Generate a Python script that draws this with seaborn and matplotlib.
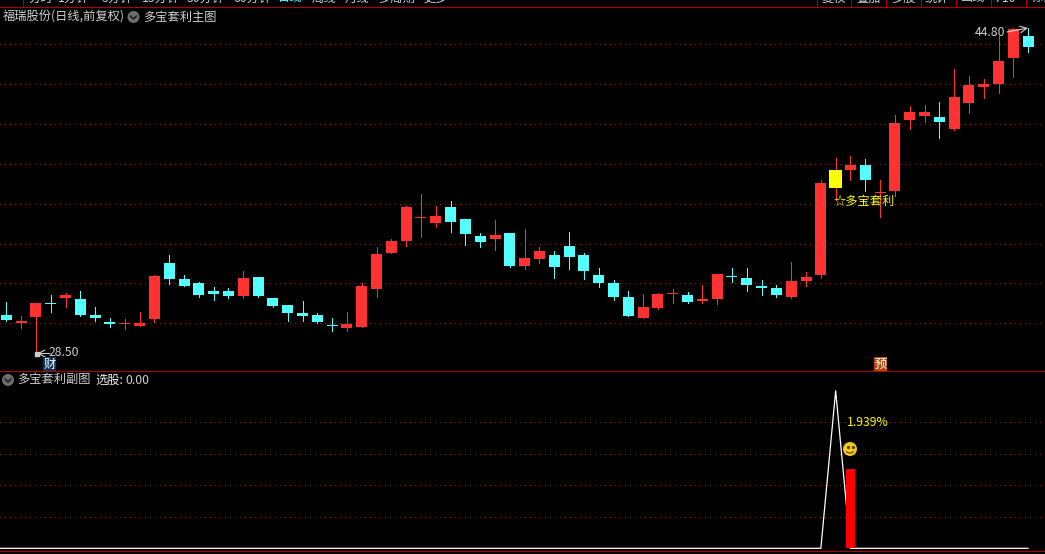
"""Candlestick chart with a signal sub panel, dark trading terminal look."""
import matplotlib
matplotlib.use("Agg")
import matplotlib.pyplot as plt
from matplotlib.patches import Arc, Circle
import numpy as np
import pandas as pd
import seaborn as sns

W, H = 1045, 554

opens = [30.41, 30.01, 30.31, 31.01, 31.27, 31.22, 30.41, 30.06, 29.96, 29.86,
         30.21, 33.02, 32.22, 32.02, 31.62, 31.62, 31.37, 32.32, 31.27, 30.91,
         30.51, 30.41, 29.91, 29.76, 29.81, 31.72, 33.53, 34.13, 35.28, 35.03,
         35.83, 35.23, 34.38, 34.23, 34.53, 32.87, 33.22, 33.42, 33.88, 33.42,
         32.42, 32.02, 31.32, 30.26, 30.76, 31.47, 31.42, 31.12, 31.22, 32.37,
         32.27, 31.87, 31.77, 31.32, 32.12, 32.42, 36.79, 37.69, 37.94, 36.54,
         36.64, 40.20, 40.40, 40.35, 39.75, 41.05, 41.85, 42.01, 43.31, 44.41]
closes = [30.16, 30.11, 31.01, 30.96, 31.42, 30.41, 30.26, 29.96, 30.01, 30.01,
          32.37, 32.22, 31.87, 31.42, 31.47, 31.37, 32.27, 31.37, 30.86, 30.51,
          30.36, 30.06, 29.86, 29.96, 31.87, 33.48, 34.13, 35.83, 35.33, 35.38,
          35.08, 34.48, 34.08, 34.43, 32.87, 33.27, 33.63, 32.82, 33.32, 32.62,
          32.02, 31.32, 30.36, 30.81, 31.47, 31.52, 31.07, 31.22, 32.47, 32.32,
          31.92, 31.77, 31.42, 32.12, 32.32, 37.04, 37.69, 37.94, 37.19, 36.59,
          40.05, 40.60, 40.60, 40.10, 41.35, 41.95, 42.01, 43.16, 44.76, 43.86]
highs = [31.07, 30.36, 31.01, 31.42, 31.52, 31.62, 30.81, 30.26, 30.21, 30.56,
         32.42, 33.42, 32.42, 32.07, 31.82, 31.77, 32.62, 32.32, 31.27, 30.91,
         31.12, 30.51, 30.26, 30.56, 32.02, 33.83, 34.23, 35.88, 36.49, 35.88,
         36.13, 35.23, 34.53, 35.18, 34.53, 34.73, 33.83, 33.63, 34.58, 33.53,
         32.77, 32.17, 31.62, 31.47, 31.52, 31.72, 31.57, 31.92, 32.47, 32.77,
         32.77, 32.17, 31.92, 33.07, 32.57, 37.19, 38.29, 38.39, 38.24, 37.19,
         40.45, 40.90, 40.95, 41.10, 42.76, 42.41, 42.26, 44.41, 44.80, 44.81]
lows = [30.11, 29.76, 28.50, 30.56, 30.81, 30.36, 30.11, 29.81, 29.71, 29.86,
        30.06, 31.97, 31.87, 31.32, 31.17, 31.27, 31.27, 31.32, 30.81, 30.11,
        30.11, 30.01, 29.61, 29.61, 29.81, 31.32, 33.53, 33.88, 34.33, 34.83,
        34.58, 33.93, 33.83, 33.68, 32.82, 32.72, 33.02, 32.27, 32.72, 32.22,
        31.82, 31.17, 30.36, 30.26, 30.71, 31.01, 31.01, 31.01, 30.96, 32.07,
        31.62, 31.42, 31.32, 31.27, 31.87, 32.27, 36.18, 37.19, 36.64, 35.33,
        36.39, 39.75, 40.10, 39.30, 39.70, 40.55, 41.30, 41.55, 42.36, 43.61]
signal_day = 56

price_ticks = [30, 32, 34, 36, 38, 40, 42, 44]
sub_ticks = [0.5, 1.0, 1.5, 2.0]

line_days = [-1, 55, 56, 57, 69]
line_values = [0.0, 0.0, 2.5, 0.0, 0.0]
bar_days = [57]
bar_values = [1.26]

menu_left = [("分时", 28), ("1分钟", 58), ("5分钟", 102), ("15分钟", 142), ("30分钟", 187),
             ("60分钟", 233), ("日线", 278), ("周线", 312), ("月线", 345), ("多周期", 378), ("更多>", 423)]
menu_right = [("复权", 822), ("叠加", 856), ("多股", 891), ("统计", 925), ("画线", 961), ("F10", 996), ("标记", 1031)]
menu_dividers = [23, 816.5, 850.5, 885.5, 920.5, 955.5, 990.5, 1025.5]

RED = "#ff3232"
CYAN = "#54ffff"
YELLOW = "#ffff00"
GRAY = "#d0d0d0"
RULE = "#b00000"
FONT = ["Noto Sans CJK SC", "DejaVu Sans"]
FS = 8.8

sns.set_theme(style="dark", rc={"axes.facecolor": "black", "figure.facecolor": "black"})
plt.rcParams["font.family"] = FONT

df = pd.DataFrame({"open": opens, "close": closes, "high": highs, "low": lows})
df["day"] = np.arange(len(df))
df["color"] = np.where(df["close"] >= df["open"], RED, CYAN)


def style_axes(ax):
    # 14.81 px per trading day, first candle centred at x=6.3
    ax.set_xlim(-6.3 / 14.81, (W - 6.3) / 14.81)
    ax.set_xticks([])
    ax.set_xlabel("")
    ax.set_ylabel("")
    ax.tick_params(left=False, labelleft=False)
    ax.set_axisbelow(True)
    ax.grid(axis="y", color="#b01010", lw=0.72, linestyle=(0, (1, 5)), antialiased=False)
    ax.grid(axis="x", visible=False)
    for spine in ax.spines.values():
        spine.set_visible(False)


def draw_candles(ax):
    plain = df[df["day"] != signal_day]
    ax.vlines(df["day"], df["low"], df["high"], colors=df["color"], lw=0.72, antialiased=False, zorder=2)
    ax.bar(plain["day"], (plain["close"] - plain["open"]).abs(), bottom=plain[["open", "close"]].min(axis=1),
           width=11 / 14.81, color=plain["color"], linewidth=0, antialiased=False, zorder=3)
    s = df[df["day"] == signal_day]
    ax.bar(s["day"], s["close"] - s["open"], bottom=s["open"], width=13 / 14.81,
           color=YELLOW, linewidth=0, antialiased=False, zorder=3)


def label(ax, x, y, text, color=GRAY, **kw):
    return ax.text(x, y, text, color=color, fontsize=FS, family=FONT, va="center", ha="left", **kw)


def chevron(ax, x, y):
    ax.add_patch(Circle((x, y), 6, color="#6c6c6c", lw=0))
    ax.plot([x - 3, x, x + 3], [y - 1, y + 2, y - 1], color="#1a1a1a", lw=1.1)


def draw_overlay(ax):
    ax.set_xlim(0, W)
    ax.set_ylim(H, 0)
    ax.axis("off")
    ax.patch.set_alpha(0)

    # menu strip, cut off by the top edge
    ax.hlines([7, 371, 551], 0, W, color=RULE, lw=0.72, antialiased=False)
    ax.vlines(menu_dividers, 0, 7, color=RULE, lw=0.72, antialiased=False)
    for text, x in menu_left + menu_right:
        label(ax, x, -2, text, color=CYAN if text == "日线" else GRAY)

    label(ax, 3, 17, "福瑞股份(日线,前复权)")
    chevron(ax, 133.5, 17)
    label(ax, 143, 17, "多宝套利主图")

    chevron(ax, 8, 380)
    label(ax, 17, 380, "多宝套利副图")
    label(ax, 95, 380, "选股:", color="#f0f0f0")
    label(ax, 125, 380, "0.00")

    # price extremes
    ax.plot([36.5], [353.5], marker="s", ms=2.5, color=GRAY, lw=0)
    ax.annotate("", xy=(37, 353.5), xytext=(50, 353.5),
                arrowprops=dict(arrowstyle="->", color=GRAY, lw=0.8, shrinkA=0, shrinkB=0))
    label(ax, 49, 353, "28.50")
    label(ax, 975, 33, "44.80")
    ax.annotate("", xy=(1028, 28), xytext=(1007, 32),
                arrowprops=dict(arrowstyle="->", color=GRAY, lw=0.8, shrinkA=0, shrinkB=0))

    label(ax, 834, 201, "☆多宝套利", color=YELLOW)
    label(ax, 847, 422, "1.939%", color=YELLOW)

    # badges
    for x, text, face in [(43, "财", "#0c3560"), (874, "预", "#b04a10")]:
        ax.text(x + 6.5, 364, text, color="white", fontsize=FS, family=FONT, ha="center", va="center",
                bbox=dict(boxstyle="square,pad=0.05", fc=face, ec="none"))

    # smiley
    ax.add_patch(Circle((850, 449), 7, color="#f0c820", lw=0))
    ax.plot([847.5, 852.5], [447, 447], ls="none", marker="o", ms=1.3, color="#604000")
    ax.add_patch(Arc((850, 450), 8, 6, theta1=20, theta2=160, color="#604000", lw=0.8))


fig = plt.figure(figsize=(W / 100, H / 100), dpi=100)

main_ax = fig.add_axes([0, 1 - 371 / H, 1, (371 - 8) / H])
main_ax.set_yticks(price_ticks)
style_axes(main_ax)
draw_candles(main_ax)
main_ax.set_xlim(-6.3 / 14.81, (W - 6.3) / 14.81)
main_ax.set_ylim(46.2228 - 0.050176 * 371, 46.2228 - 0.050176 * 8)
main_ax.set_yticks(price_ticks)

sub_ax = fig.add_axes([0, 1 - 551 / H, 1, (551 - 372) / H])
sns.lineplot(x=line_days, y=line_values, color="white", lw=0.9, errorbar=None, ax=sub_ax, zorder=2)
sns.barplot(x=bar_days, y=bar_values, native_scale=True, color="#ff0000", width=9 / 14.81,
            saturation=1, linewidth=0, errorbar=None, ax=sub_ax, zorder=3)
style_axes(sub_ax)
sub_ax.set_ylim((548.3 - 551) / 63, (548.3 - 372) / 63)
sub_ax.set_yticks(sub_ticks)

overlay = fig.add_axes([0, 0, 1, 1])
draw_overlay(overlay)

fig.savefig("out.png", dpi=100, facecolor="black")
plt.close(fig)
